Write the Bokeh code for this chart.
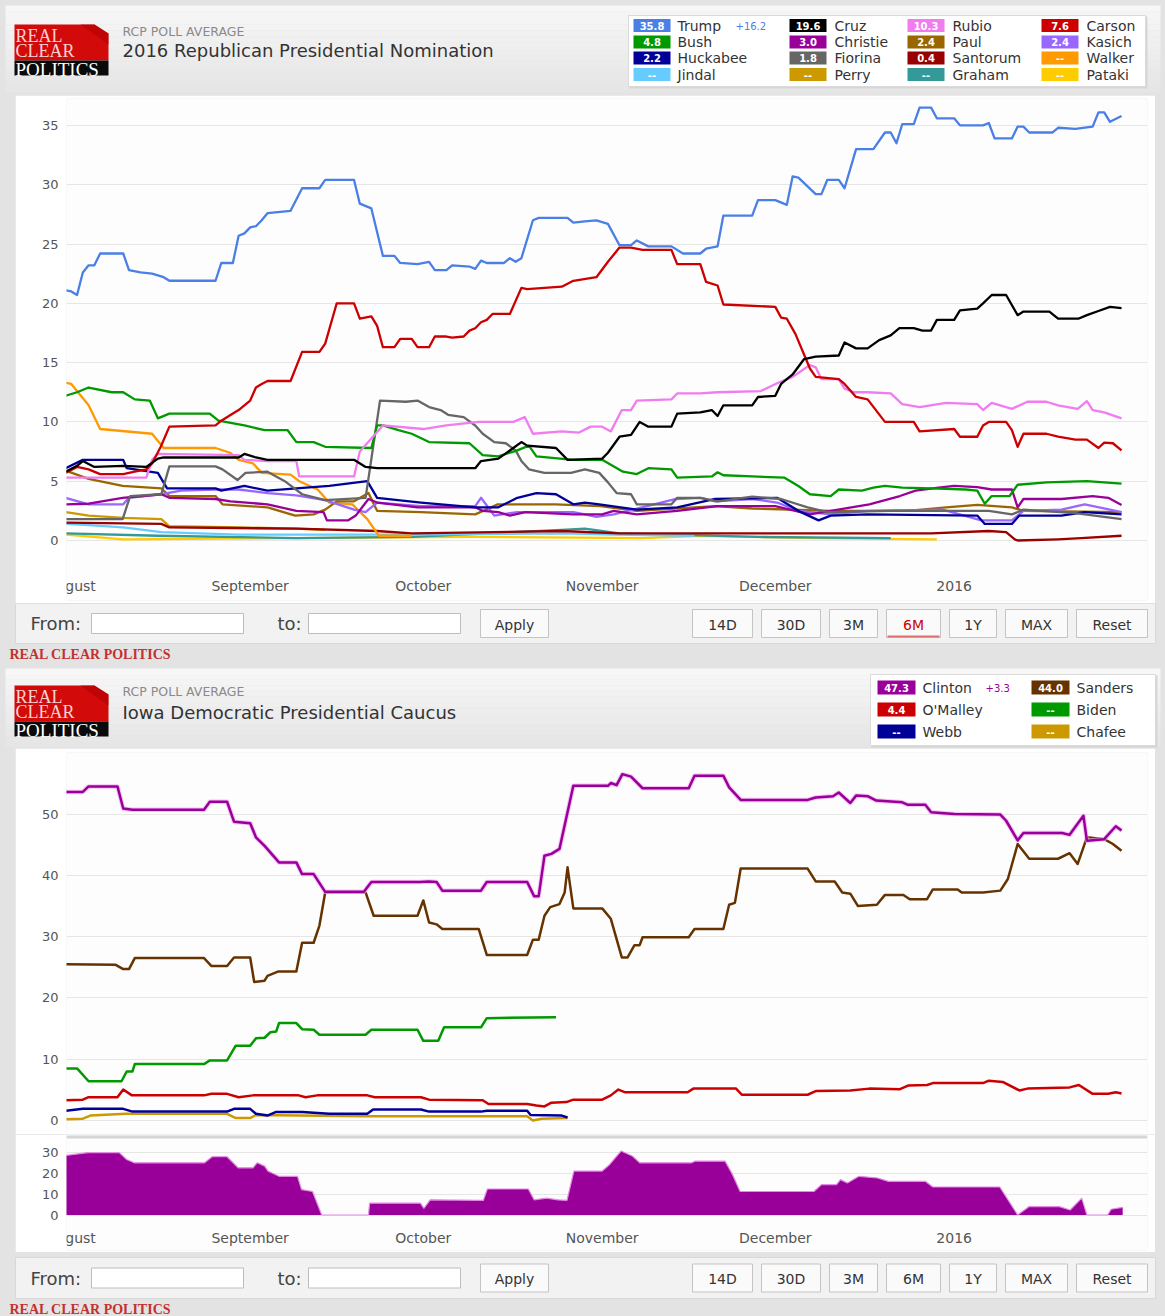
import pandas as pd
from bokeh.plotting import figure
from bokeh.layouts import column
from bokeh.models import Range1d, FixedTicker, Span, GlobalInlineStyleSheet
from bokeh.core.properties import value
from bokeh.embed import file_html
from bokeh.resources import INLINE

# ---------------- data ----------------
START = pd.Timestamp("2015-07-31")          # day 0 of the series below
X_LEFT_DAY, X_RIGHT_DAY = 0.17, 187.5       # visible window (6M)

MONTH_LABELS = ["August", "September", "October", "November", "December", "2016"]
MONTH_DATES = ["2015-08-01", "2015-09-01", "2015-10-01", "2015-11-01", "2015-12-01", "2016-01-01"]

Y1_TICKS = [0, 5, 10, 15, 20, 25, 30, 35]
Y2_TICKS = [0, 10, 20, 30, 40, 50]
Y3_TICKS = [0, 10, 20, 30]

# Republican nomination: (day offset, RCP average %)
TRUMP = [(0, 21.1), (1, 21.0), (2, 20.7), (3, 22.6), (4, 23.2), (5, 23.2), (6, 24.2), (10, 24.2), (11, 22.8),
         (13, 22.6), (15, 22.5), (17, 22.2), (18, 21.9), (26, 21.9), (27, 23.4), (29, 23.4), (30, 25.7),
         (31, 25.9), (32, 26.4), (33, 26.5), (34, 27.0), (35, 27.6), (39, 27.8), (41, 29.7), (44, 29.7),
         (45, 30.4), (50, 30.4), (51, 28.4), (53, 28.0), (55, 24.0), (57, 24.0), (58, 23.4), (61, 23.3),
         (63, 23.5), (64, 22.8), (66, 22.8), (67, 23.2), (70, 23.1), (71, 22.9), (72, 23.6), (73, 23.4),
         (76, 23.4), (77, 23.8), (78, 23.5), (79, 23.8), (81, 27.0), (82, 27.2), (87, 27.2), (88, 26.8),
         (90, 26.9), (92, 27.0), (94, 26.7), (96, 24.9), (98, 24.9), (99, 25.3), (101, 24.8), (105, 24.8),
         (107, 24.2), (110, 24.2), (111, 24.6), (113, 24.8), (114, 27.4), (119, 27.4), (120, 28.7),
         (123, 28.7), (125, 28.3), (126, 30.7), (127, 30.6), (130, 29.2), (131, 29.2), (132, 30.4),
         (134, 30.4), (135, 29.7), (137, 33.0), (140, 33.0), (142, 34.4), (143, 34.4), (144, 33.5),
         (145, 35.1), (147, 35.1), (148, 36.5), (150, 36.5), (151, 35.6), (154, 35.6), (155, 35.0),
         (159, 35.0), (160, 35.2), (161, 33.9), (164, 33.9), (165, 34.9), (166, 34.9), (167, 34.4),
         (171, 34.4), (172, 34.8), (175, 34.7), (178, 34.9), (179, 36.1), (180, 36.1), (181, 35.3), (183, 35.8)]
CRUZ = [(0, 5.8), (2, 6.3), (3, 6.7), (5, 6.2), (10, 6.3), (14, 6.2), (16, 6.9), (17, 7.0), (30, 7.0), (31, 7.3),
        (33, 7.0), (35, 6.8), (50, 6.8), (52, 6.2), (54, 6.1), (71, 6.1), (72, 6.7), (75, 6.9), (77.6, 7.8),
        (79, 8.3), (80, 8.0), (85, 7.8), (87, 6.8), (93, 6.9), (94, 7.4), (96, 8.75), (98, 8.9), (99.5, 10.0),
        (101, 9.6), (105, 9.6), (106, 10.7), (110, 10.8), (112, 11.0), (113, 10.5), (114, 11.4), (119, 11.4),
        (120, 12.1), (123, 12.2), (124, 13.2), (126, 14.0), (128, 15.3), (130, 15.5), (134, 15.6), (135, 16.7),
        (137, 16.2), (139, 16.2), (141, 16.9), (143, 17.3), (144.5, 17.9), (147, 17.9), (148.5, 17.7),
        (150, 17.7), (151, 18.6), (154, 18.6), (155, 19.4), (158, 19.55), (159, 20.0), (160.5, 20.7),
        (163, 20.7), (165, 19.0), (166, 19.3), (170.5, 19.3), (172, 18.7), (175.5, 18.7), (177, 19.0),
        (179, 19.35), (181, 19.7), (183, 19.6)]
RUBIO = [(0, 5.3), (14, 5.3), (15, 6.8), (16, 7.3), (30, 7.2), (31, 6.8), (35, 6.7), (40, 6.7), (40.5, 5.4),
         (50, 5.4), (51, 7.5), (53, 8.6), (55, 9.7), (62, 9.4), (66, 9.7), (71.6, 10.0), (77.6, 10.0),
         (79.6, 10.4), (81, 9.0), (86, 9.2), (89, 9.1), (91, 9.6), (93, 9.6), (94.5, 9.2), (96.4, 11.0),
         (98, 11.0), (99, 11.8), (105, 11.9), (106, 12.4), (110, 12.4), (113, 12.5), (120.5, 12.6),
         (123.5, 13.3), (126, 13.8), (129, 14.8), (130, 14.6), (131, 13.6), (134, 13.6), (135, 12.8),
         (136.6, 12.5), (139, 12.5), (143, 12.4), (145, 11.5), (148, 11.25), (152.6, 11.6), (158, 11.5),
         (159, 11.0), (160.5, 11.6), (164, 11.1), (166.7, 11.7), (170, 11.7), (172, 11.4), (175.4, 11.1),
         (177, 11.75), (178, 11.0), (180, 10.8), (183, 10.3)]
CARSON = [(0, 5.7), (2, 6.2), (4, 6.0), (6, 5.6), (10, 5.6), (12, 5.8), (14, 6.0), (15, 6.5), (16.5, 7.9),
          (18, 9.6), (26, 9.7), (27, 10.1), (29, 10.7), (30, 11.0), (32, 11.8), (33, 12.9), (34, 13.2),
          (35, 13.45), (39, 13.45), (41, 15.9), (44, 15.9), (45, 16.6), (47, 20.0), (50, 20.0), (51, 18.7),
          (53, 18.9), (54, 18.1), (55, 16.3), (57, 16.3), (58, 17.0), (60, 17.0), (61, 16.3), (63, 16.3),
          (64, 17.2), (66, 17.2), (67, 17.1), (69, 17.2), (70, 17.7), (71, 17.9), (72, 18.4), (73, 18.6),
          (74, 19.1), (77, 19.1), (79, 21.3), (80, 21.2), (86, 21.4), (88, 21.9), (92, 22.2), (94, 23.5),
          (96, 24.7), (98, 24.7), (100, 24.5), (105, 24.5), (106, 23.3), (110, 23.3), (111, 21.8), (113, 21.5),
          (114, 19.9), (123, 19.7), (124, 18.8), (125, 18.7), (126.5, 17.4), (129, 14.5), (130, 13.8),
          (134, 13.6), (135, 13.2), (137, 12.1), (139, 11.9), (142, 10.0), (147, 10.0), (148, 9.2), (154, 9.4),
          (155, 8.75), (158, 8.75), (159, 9.7), (160, 10.0), (163, 10.0), (164, 9.3), (165, 7.9), (166, 9.0),
          (170, 9.0), (172, 8.75), (175, 8.5), (177, 8.5), (179, 7.8), (180, 8.25), (181.5, 8.2), (183, 7.6)]
BUSH = [(0, 12.2), (2, 12.5), (4, 12.9), (8, 12.5), (10, 12.5), (12, 11.9), (14.6, 11.8), (16, 10.3), (18, 10.7),
        (25, 10.7), (26.5, 10.1), (31, 9.7), (34.5, 9.3), (38.5, 9.3), (40, 8.3), (43, 8.3), (45, 7.9), (53, 7.8),
        (54, 9.7), (55, 9.7), (57.7, 9.3), (60, 9.0), (63, 8.3), (70, 8.2), (72.3, 7.2), (75, 7.1), (78.3, 7.6),
        (80.3, 8.0), (81.6, 7.1), (88, 6.8), (93, 6.8), (96.6, 5.8), (99, 5.6), (101, 6.1), (105, 6.0),
        (106, 5.3), (112, 5.4), (113, 5.75), (114, 5.5), (119, 5.4), (124.6, 5.3), (127, 4.6), (129, 3.9),
        (132.6, 3.75), (134, 4.3), (138, 4.2), (140, 4.45), (142, 4.6), (145, 4.45), (150, 4.4), (156, 4.3),
        (158, 4.2), (159.3, 3.1), (160.5, 3.75), (163.6, 3.75), (165, 4.7), (170, 4.9), (177, 5.0), (183, 4.8)]
CHRISTIE = [(0, 3.05), (4, 3.1), (9.9, 3.6), (16.6, 3.9), (18, 3.6), (26, 3.5), (28.6, 3.3), (35, 3.05),
            (40, 2.5), (44.7, 2.4), (45.3, 1.7), (49, 1.7), (50.3, 2.1), (52.5, 3.5), (54, 3.2), (61, 2.8),
            (71, 2.8), (72.3, 2.5), (75, 2.4), (77, 2.1), (79.7, 2.4), (88, 2.2), (93, 2.2), (95, 2.5),
            (99, 2.2), (106, 2.5), (113, 2.9), (123, 2.9), (129, 2.2), (132.6, 2.5), (139.3, 3.05),
            (144.6, 3.75), (147.3, 4.2), (151.3, 4.45), (154, 4.6), (158, 4.5), (160.5, 4.3), (164, 4.3),
            (165, 2.8), (166, 3.5), (172.6, 3.5), (178, 3.75), (180.7, 3.6), (183, 3.0)]
PAUL = [(0, 5.9), (4, 5.2), (9.9, 4.6), (16.6, 4.4), (18, 3.75), (26, 3.75), (27.2, 3.05), (35, 2.8),
        (39.8, 2.1), (43, 2.2), (45, 2.6), (47, 3.3), (50, 3.3), (52.5, 4.0), (54, 2.5), (61.6, 2.4), (71, 2.2),
        (74.9, 3.05), (84.9, 3.05), (92.7, 2.9), (99, 2.5), (112.6, 2.9), (119, 2.7), (132.6, 2.5),
        (146, 2.5), (152.6, 2.8), (158, 3.0), (164, 2.8), (166, 2.5), (183, 2.4)]
KASICH = [(0, 3.6), (4, 3.05), (10, 3.05), (11, 3.6), (16.6, 3.9), (20, 4.2), (26, 4.3), (30, 4.3), (35, 4.0),
          (40, 3.8), (45, 3.4), (50, 2.6), (52, 2.4), (54, 3.2), (61.6, 2.9), (71, 2.9), (72, 3.6), (74.3, 2.1),
          (78.3, 2.4), (88, 2.4), (90, 2.2), (92, 2.0), (95, 2.2), (105.8, 3.5), (110, 3.6), (112.6, 3.3),
          (119, 3.5), (123.3, 3.2), (127, 2.5), (132.6, 2.2), (139, 2.5), (152, 2.6), (158.7, 1.7), (164, 1.7),
          (166, 2.5), (172.6, 2.6), (176.6, 3.05), (183, 2.4)]
HUCKABEE = [(0, 6.1), (3, 6.8), (10, 6.8), (10.6, 6.1), (16, 5.7), (17.6, 4.4), (26, 4.4), (27, 4.2), (31, 4.6),
            (35, 4.2), (40, 4.4), (45.7, 4.6), (52.3, 5.0), (54, 3.6), (61.6, 3.2), (71, 2.8), (75, 2.8),
            (78.3, 3.6), (81.6, 4.0), (85, 3.9), (88, 3.05), (90, 3.2), (92.5, 3.05), (99, 2.6), (106, 2.8),
            (112.6, 3.5), (123.3, 3.6), (127, 2.5), (130.5, 1.7), (132.6, 2.1), (139, 2.2), (158, 2.1),
            (159.3, 1.4), (164, 1.4), (165.3, 2.1), (172.6, 2.1), (176.6, 2.4), (183, 2.2)]
FIORINA = [(0, 1.8), (5, 1.8), (9.9, 1.8), (11.2, 3.75), (16.6, 3.9), (18, 6.25), (26, 6.25), (27.2, 6.0),
           (29.8, 5.1), (31.2, 5.7), (35, 5.8), (38, 5.0), (41, 3.9), (45, 3.4), (52, 3.6), (54.5, 11.8),
           (59, 11.7), (61, 11.8), (63, 11.25), (65, 11.0), (66.3, 10.6), (69, 10.4), (71, 9.7), (72.3, 9.0),
           (74.3, 8.3), (76.3, 8.2), (78, 7.6), (79, 6.7), (80.3, 6.0), (83, 5.7), (87.6, 5.7), (90, 6.0),
           (92.5, 5.7), (94, 4.9), (95.5, 4.0), (98, 3.9), (99, 3.05), (105, 3.05), (106, 3.6), (110, 3.6),
           (113, 3.3), (119, 3.7), (124, 3.5), (128.6, 2.8), (132, 2.4), (143, 2.5), (160, 2.5), (164, 2.2),
           (166, 2.6), (175, 2.3), (183, 1.8)]
SANTORUM = [(0, 1.5), (16.6, 1.4), (18, 1.1), (40, 1.0), (54, 0.8), (60, 0.6), (86, 0.8), (96, 0.6),
            (120, 0.6), (150, 0.6), (160, 0.8), (163, 0.7), (164.5, 0.1), (165, 0.0), (172, 0.1), (176, 0.2),
            (183, 0.4)]
WALKER = [(0, 13.3), (1, 13.2), (4, 11.4), (6, 9.4), (15, 9.0), (17, 7.8), (26, 7.8), (28.5, 7.4), (30, 6.8),
          (32.5, 6.5), (34, 5.7), (39, 5.55), (40.5, 5.0), (43.7, 4.3), (45.7, 3.2), (49.7, 3.05), (52.3, 1.8),
          (54.3, 0.4), (60, 0.4)]
JINDAL = [(0, 1.4), (4, 1.3), (10, 1.1), (16.6, 0.7), (30, 0.5), (60, 0.5), (86, 0.6), (95, 0.5), (109, 0.4)]
PERRY = [(0, 2.4), (4, 2.1), (10, 1.9), (16.6, 1.8), (18, 1.2), (30, 1.1), (40, 1.0), (45, 0.9)]
GRAHAM = [(0, 0.6), (16, 0.4), (40, 0.2), (60, 0.3), (86, 0.9), (90, 1.0), (96, 0.6), (120, 0.3), (143, 0.2)]
PATAKI = [(0, 0.5), (10, 0.1), (40, 0.2), (70, 0.3), (100, 0.2), (110, 0.4), (130, 0.2), (151, 0.1)]

# Iowa Democratic caucus
CLINTON = [(0, 53.6), (3, 53.6), (4, 54.5), (9, 54.5), (10, 50.9), (11.6, 50.7), (24, 50.7), (25, 52.0),
           (28, 52.0), (29.2, 48.75), (32, 48.5), (33, 46.2), (34.5, 44.8), (37, 42.1), (40, 42.1), (41, 40.2),
           (43, 40.2), (45, 37.3), (51.7, 37.3), (53, 38.9), (61.4, 38.9), (63, 39.0), (64.3, 38.9),
           (65.3, 37.5), (72, 37.5), (73, 38.9), (80, 38.9), (81.2, 36.6), (82, 36.6), (83, 43.2), (84.2, 43.5),
           (85.6, 44.3), (88, 54.6), (94, 54.6), (94.5, 55.05), (95.5, 54.7), (96.5, 56.5), (98, 56.1),
           (100, 54.2), (108, 54.2), (109, 56.25), (114, 56.25), (115, 54.35), (117, 52.3), (128.6, 52.3),
           (130, 52.7), (133, 52.9), (134, 53.5), (136, 51.8), (137, 53.0), (139, 52.9), (140.5, 52.2),
           (145, 51.9), (146, 51.5), (149, 51.5), (150, 50.3), (154, 50.0), (162, 49.9), (163, 48.9),
           (165, 45.7), (166, 46.9), (172.7, 46.9), (174, 46.6), (176.4, 49.7), (177, 45.65), (180, 45.9),
           (182, 48.0), (183, 47.3)]
SANDERS = [(0, 25.5), (8.7, 25.4), (10, 24.7), (11, 24.7), (12, 26.5), (24, 26.5), (25.3, 25.2), (28, 25.2),
           (29.2, 26.6), (32, 26.6), (32.7, 22.6), (34.5, 22.8), (35, 23.6), (36.8, 24.3), (40, 24.3),
           (41, 29.0), (43, 29.0), (44, 31.8), (45, 37.2), (52, 37.2), (53.4, 33.4), (61, 33.4), (62, 35.9),
           (63, 32.3), (64.3, 32.0), (65.3, 31.25), (71.6, 31.25), (73, 27.0), (80, 27.0), (81, 29.5),
           (82, 29.5), (83, 33.4), (84, 34.8), (85.6, 35.3), (86.5, 37.2), (87, 41.3), (88, 34.6), (93, 34.6),
           (94.5, 32.9), (96.4, 26.6), (97.4, 26.6), (98.6, 28.6), (99.5, 28.6), (100, 29.9), (108, 29.9),
           (109, 31.25), (114, 31.25), (115, 35.2), (116, 35.5), (117, 41.1), (128.6, 41.1), (130, 39.0),
           (133.3, 39.0), (134.6, 37.2), (136, 37.0), (137.3, 35.0), (140.6, 35.2), (142, 36.8), (145.2, 36.8),
           (146.3, 36.1), (149.3, 36.1), (150.3, 37.7), (154.6, 37.7), (155.3, 37.2), (159, 37.2), (162, 37.5),
           (163.3, 39.4), (165, 45.1), (167, 42.7), (172, 42.7), (174, 43.6), (175.4, 41.85), (177, 46.2),
           (180, 45.9), (181.5, 45.1), (183, 44.0)]
BIDEN = [(0, 8.5), (2, 8.5), (4, 6.4), (9.7, 6.4), (10.6, 8.0), (11.6, 8.0), (12, 9.2), (24, 9.2), (25, 9.8),
         (28, 9.8), (29.5, 12.2), (32, 12.2), (33, 13.4), (34.5, 13.5), (35.5, 14.4), (36.5, 14.5), (37, 15.9),
         (40, 15.9), (41, 14.9), (43, 14.8), (44, 14.0), (52, 14.0), (53, 14.8), (61, 14.8), (62, 13.0),
         (64.6, 13.0), (65.6, 15.2), (72, 15.2), (73, 16.7), (85, 16.85)]
OMALLEY = [(0, 3.3), (3, 3.4), (4, 3.8), (9, 3.8), (10, 5.05), (11.5, 4.1), (24, 4.1), (25.3, 4.35), (28, 4.35),
           (30, 3.8), (32.5, 4.1), (40.4, 4.1), (41.6, 3.8), (43.6, 4.1), (52.3, 4.1), (53.6, 3.8), (61.6, 3.8),
           (63, 3.4), (72.3, 3.3), (73.3, 2.7), (80, 2.7), (81.6, 2.45), (83, 2.3), (84.2, 2.9), (86.8, 3.0),
           (88, 3.4), (93, 3.4), (94.5, 4.1), (95.8, 5.05), (97, 4.6), (107.8, 4.6), (108.8, 5.2), (116.2, 5.2),
           (117.2, 4.2), (128.6, 4.2), (130, 4.8), (136, 4.9), (139.3, 5.2), (144.6, 5.1), (146, 5.7),
           (149.3, 5.8), (150.3, 6.1), (159, 6.1), (160, 6.5), (162.4, 6.3), (165.3, 4.9), (166.7, 5.2),
           (174, 5.4), (175.6, 5.8), (178, 4.35), (180.7, 4.35), (182, 4.6), (183, 4.4)]
WEBB = [(0, 1.6), (3, 1.9), (10, 1.9), (11.6, 1.45), (28, 1.45), (29.2, 1.9), (32, 1.9), (33, 1.1), (35, 0.8),
        (36.5, 1.4), (41, 1.4), (45.7, 1.1), (52.3, 1.1), (53.3, 1.8), (61.6, 1.8), (63, 1.45), (72, 1.45),
        (73, 1.6), (80, 1.6), (80.6, 0.9), (86, 0.8), (87, 0.5)]
CHAFEE = [(0, 0.2), (3, 0.3), (4.3, 0.8), (10.5, 1.1), (28, 1.1), (29.5, 0.4), (32, 0.4), (33, 0.9), (52, 0.7),
          (80, 0.7), (81, 0.0), (82.5, 0.3), (87, 0.4)]
# Clinton lead over Sanders (spread panel)
SPREAD = [(0, 28.6), (3.9, 30.0), (9.3, 30.0), (10.6, 26.7), (11.9, 25.1), (24.1, 25.1), (25.4, 28.0), (28, 28.0),
          (29.9, 22.7), (32.5, 22.7), (33.2, 25.1), (34.5, 23.5), (35.1, 21.1), (37, 18.6), (40.2, 18.6),
          (40.9, 12.2), (42.8, 11.3), (44.4, 0.0), (52.5, 0.0), (52.7, 5.7), (61.5, 5.7), (62.1, 3.2),
          (63.2, 7.3), (72.4, 7.0), (73.1, 12.5), (80.2, 12.5), (81.2, 7.3), (83.4, 8.1), (85.3, 7.3),
          (86.9, 7.0), (88.1, 21.1), (93, 21.1), (94.3, 24.3), (96.3, 30.8), (98.2, 28.4), (99.5, 25.1),
          (108.5, 25.1), (109.1, 25.9), (114.3, 25.9), (115.6, 19.4), (116.9, 11.3), (129.7, 11.3), (131, 14.6),
          (133.6, 14.6), (134.3, 17.0), (135.5, 15.4), (137.5, 18.6), (140.7, 17.8), (142.6, 16.2), (149, 16.2),
          (150.3, 13.45), (161.9, 13.45), (165, 0.0), (167, 4.05), (172.2, 4.05), (174.1, 2.4), (176.1, 8.1),
          (177, 0.0), (180.6, 0.0), (181.2, 2.75), (183.2, 3.7)]

LEGEND1_NAMES = ["Trump", "Cruz", "Rubio", "Carson", "Bush", "Christie", "Paul", "Kasich",
                 "Huckabee", "Fiorina", "Santorum", "Walker", "Jindal", "Perry", "Graham", "Pataki"]
LEGEND1_VALUES = ["35.8", "19.6", "10.3", "7.6", "4.8", "3.0", "2.4", "2.4",
                  "2.2", "1.8", "0.4", "--", "--", "--", "--", "--"]
TRUMP_SPREAD = "+16.2"
LEGEND2_NAMES = ["Clinton", "Sanders", "O'Malley", "Biden", "Webb", "Chafee"]
LEGEND2_VALUES = ["47.3", "44.0", "4.4", "--", "--", "--"]
CLINTON_SPREAD = "+3.3"
BUTTONS = ["14D", "30D", "3M", "6M", "1Y", "MAX", "Reset"]

# ---------------- styles ----------------
COL = {"Trump": "#4a7fe5", "Cruz": "#000000", "Rubio": "#f07cf0", "Carson": "#cc0000", "Bush": "#009900",
       "Christie": "#990099", "Paul": "#996600", "Kasich": "#9966ff", "Huckabee": "#000099",
       "Fiorina": "#666666", "Santorum": "#990000", "Walker": "#ff9900", "Jindal": "#66ccff",
       "Perry": "#cc9900", "Graham": "#339999", "Pataki": "#ffcc00",
       "Clinton": "#990099", "Sanders": "#663300", "O'Malley": "#cc0000", "Biden": "#009900",
       "Webb": "#000099", "Chafee": "#cc9900"}
SERIES1 = [("Pataki", PATAKI), ("Graham", GRAHAM), ("Perry", PERRY), ("Jindal", JINDAL), ("Santorum", SANTORUM),
           ("Walker", WALKER), ("Paul", PAUL), ("Kasich", KASICH), ("Christie", CHRISTIE), ("Huckabee", HUCKABEE),
           ("Fiorina", FIORINA), ("Bush", BUSH), ("Rubio", RUBIO), ("Carson", CARSON), ("Cruz", CRUZ),
           ("Trump", TRUMP)]
SERIES2 = [("Chafee", CHAFEE), ("Webb", WEBB), ("O'Malley", OMALLEY), ("Biden", BIDEN), ("Sanders", SANDERS),
           ("Clinton", CLINTON)]

FONT = value("DejaVu Sans")
SERIF = value("Liberation Serif")
BG = "#e3e3e3"


def to_x(days):
    return (START + pd.to_timedelta(list(days), unit="D")).to_numpy()


def split(pts):
    return to_x([d for d, _ in pts]), [v for _, v in pts]


def base_fig(width, height, **kw):
    p = figure(width=width, height=height, output_backend="svg", toolbar_location=None, **kw)
    p.outline_line_color = None
    p.frame_align = False
    return p


def deco_fig(y0, y1, bg):
    p = base_fig(1165, y1 - y0, x_range=Range1d(0, 1165), y_range=Range1d(y1, y0),
                 x_axis_location=None, y_axis_location=None,
                 min_border_left=0, min_border_right=0, min_border_top=0, min_border_bottom=0)
    p.grid.visible = False
    p.background_fill_color = bg
    p.border_fill_color = bg
    return p


def plot_fig(height, y0, y1, top, bottom, ticks):
    p = base_fig(1140, height, x_axis_type="datetime",
                 x_range=Range1d(START + pd.Timedelta(days=X_LEFT_DAY), START + pd.Timedelta(days=X_RIGHT_DAY)),
                 y_range=Range1d(y0, y1), x_axis_location=None, margin=(0, 0, 0, 15),
                 min_border_left=51, min_border_right=8, min_border_top=top, min_border_bottom=bottom)
    p.border_fill_color = "white"
    p.background_fill_color = "#fdfdfd"
    p.xgrid.visible = False
    p.ygrid.ticker = FixedTicker(ticks=ticks)
    p.ygrid.grid_line_color = "#e6e6e6"
    ax = p.yaxis[0]
    ax.ticker = FixedTicker(ticks=ticks)
    ax.axis_line_color = None
    ax.major_tick_line_color = None
    ax.minor_tick_line_color = None
    ax.major_tick_out = 0
    ax.major_label_standoff = 8
    ax.major_label_text_font = "DejaVu Sans"
    ax.major_label_text_font_size = "13px"
    ax.major_label_text_color = "#555555"
    return p


def month_labels(p, y):
    p.text(x=pd.to_datetime(MONTH_DATES).to_numpy(), y=[y] * len(MONTH_LABELS), text=MONTH_LABELS,
           text_align="center", text_baseline="middle", text_font=FONT, text_font_size="14px",
           text_color="#555555")


def logo(p, top, red_h, black_h):
    p.patch(x=[14, 94, 108, 108, 14], y=[top, top, top + 9, top + red_h, top + red_h], fill_color="#d20a0a",
            line_color=None)
    p.patch(x=[80, 94, 108, 108], y=[top, top, top + 9, top + 20], fill_color="#b00000", line_color=None,
            fill_alpha=0.6)
    p.quad(left=[14], right=[108], top=[top + red_h], bottom=[top + red_h + black_h], fill_color="#0a0a0a",
           line_color=None)
    p.text(x=[15, 15], y=[top + 11, top + 26], text=["REAL", "CLEAR"], text_baseline="middle",
           text_font=SERIF, text_font_size="18px", text_color="#f6d2d2")
    p.text(x=[15], y=[top + red_h + black_h / 2 + 1], text=["POLITICS"], text_baseline="middle", text_font=SERIF,
           text_font_size="19px", text_color="white")


def header(y0, y1, bg_top, bg_bot, logo_top, sub_y, title_y, title, names, vals, spread, box, sw_left, name_x,
           row_y, ncols, sw_w, sw_h, spread_x):
    p = deco_fig(y0, y1, BG)
    n = 14
    h = (bg_bot - bg_top) / n
    shades = [int(247 - (247 - 230) * i / (n - 1)) for i in range(n)]
    p.quad(left=[5] * n, right=[1160] * n, top=[bg_top + i * h for i in range(n)],
           bottom=[bg_top + (i + 1) * h for i in range(n)],
           fill_color=["#%02x%02x%02x" % (s, s, s) for s in shades], line_color=None)
    logo(p, logo_top, 36, 15)
    p.text(x=[122], y=[sub_y], text=["RCP POLL AVERAGE"], text_baseline="middle", text_font=FONT,
           text_font_size="12.5px", text_color="#8a8a8a")
    p.text(x=[122], y=[title_y], text=[title], text_baseline="middle", text_font=FONT,
           text_font_size="18px", text_color="#333333")
    bl, bt, br, bb = box
    p.quad(left=[bl + 1], right=[br + 2], top=[bt + 1], bottom=[bb + 2], fill_color="#d6d6d6", line_color=None)
    p.quad(left=[bl], right=[br], top=[bt], bottom=[bb], fill_color="white", line_color="#dadada")
    sx, sy, nx, cols, vv = [], [], [], [], []
    for i, (nm, vl) in enumerate(zip(names, vals)):
        r, c = divmod(i, ncols)
        sx.append(sw_left[c])
        sy.append(row_y[r])
        nx.append(name_x[c])
        cols.append(COL[nm])
        vv.append(vl)
    p.quad(left=sx, right=[s + sw_w for s in sx], top=[y - sw_h / 2 for y in sy],
           bottom=[y + sw_h / 2 for y in sy], fill_color=cols, line_color=None)
    p.text(x=[s + sw_w / 2 for s in sx], y=sy, text=vv, text_align="center", text_baseline="middle",
           text_font=FONT, text_font_size="10px", text_font_style="bold", text_color="white")
    p.text(x=nx, y=sy, text=list(names), text_baseline="middle", text_font=FONT, text_font_size="14px",
           text_color="#333333")
    p.text(x=[spread_x], y=[row_y[0]], text=[spread], text_baseline="middle", text_font=FONT,
           text_font_size="10px", text_color=COL[names[0]])
    return p


def controls(y0, y1, bar_top, bar_bot, selected, foot_y):
    p = deco_fig(y0, y1, BG)
    p.quad(left=[15], right=[1155], top=[bar_top], bottom=[bar_bot], fill_color="#f2f2f2", line_color="#d8d8d8")
    mid = (bar_top + bar_bot) / 2
    p.quad(left=[91, 308], right=[243, 460], top=[mid - 10] * 2, bottom=[mid + 10] * 2, fill_color="white",
           line_color="#bdbdbd")
    p.text(x=[30, 277], y=[mid, mid], text=["From:", "to:"], text_baseline="middle", text_font=FONT,
           text_font_size="18px", text_color="#444444")
    lefts = [480, 692, 761, 829, 886, 949, 1005, 1076]
    rights = [548, 752, 820, 877, 940, 996, 1067, 1147]
    labels = ["Apply"] + BUTTONS
    p.quad(left=lefts, right=rights, top=[mid - 14] * 8, bottom=[mid + 14] * 8, fill_color="#fafafa",
           line_color="#c4c4c4")
    colors = ["#cc0000" if (lab == selected) else "#333333" for lab in labels]
    p.text(x=[(a + b) / 2 for a, b in zip(lefts, rights)], y=[mid + 1] * 8, text=labels, text_align="center",
           text_baseline="middle", text_font=FONT, text_font_size="14px", text_color=colors)
    if selected in labels:
        k = labels.index(selected)
        p.segment(x0=[lefts[k] + 1], x1=[rights[k] - 1], y0=[mid + 13], y1=[mid + 13], line_color="#e07070",
                  line_width=2)
    p.text(x=[9], y=[foot_y], text=["REAL CLEAR POLITICS"], text_baseline="middle", text_font=SERIF,
           text_font_size="14px", text_font_style="bold", text_color="#c43030")
    return p


# ---------------- chart 1 ----------------
h1 = header(0, 95, 5, 92, 24, 31, 50, "2016 Republican Presidential Nomination", LEGEND1_NAMES, LEGEND1_VALUES,
            TRUMP_SPREAD, (628, 15, 1145, 86), [633, 789, 907, 1041], [677, 834, 952, 1086],
            [25, 41.5, 57.5, 74], 4, 37, 13, 735)

p1 = plot_fig(508, (540 - 600) / 11.86, (540 - 98) / 11.86, 3, 3, Y1_TICKS)
for nm, pts in SERIES1:
    x, y = split(pts)
    p1.line(x=x, y=y, line_color=COL[nm], line_width=2.3, line_join="round")
month_labels(p1, (540 - 585) / 11.86)

c1 = controls(603, 665, 603, 643, "6M", 654)

# ---------------- chart 2 ----------------
h2 = header(665, 748, 668, 746, 685, 691, 712, "Iowa Democratic Presidential Caucus", LEGEND2_NAMES,
            LEGEND2_VALUES, CLINTON_SPREAD, (870, 674, 1155, 745), [877, 1031], [922, 1076], [687, 709, 731],
            2, 38, 14, 985)

p2 = plot_fig(386, -(1134 - 1120) / 6.13, (1120 - 752) / 6.13, 4, 0, Y2_TICKS)
for nm, pts in SERIES2:
    x, y = split(pts)
    if nm == "Clinton":
        p2.line(x=x, y=y, line_color="#f2a6f2", line_width=4.5, line_alpha=0.7, line_join="round")
    p2.line(x=x, y=y, line_color=COL[nm], line_width=2.5, line_join="round")

p3 = plot_fig(118, -(1250 - 1214.5) / 2.08, (1214.5 - 1134) / 2.08, 0, 2, Y3_TICKS)
sx, sv = split(SPREAD)
p3.varea(x=sx, y1=[0] * len(sv), y2=sv, fill_color="#990099")
p3.line(x=sx, y=sv, line_color="#e38ae3", line_width=1.2)
p3.add_layout(Span(location=(1214.5 - 1136.5) / 2.08, dimension="width", line_color="#d6d6d6", line_width=3))
month_labels(p3, (1214.5 - 1237) / 2.08)

c2 = controls(1252, 1316, 1257, 1298, None, 1309)

layout = column(h1, p1, c1, h2, p2, p3, c2,
                stylesheets=[GlobalInlineStyleSheet(css="body { background-color: #e3e3e3; }")])

open("out.html", "w").write(file_html(layout, INLINE))
